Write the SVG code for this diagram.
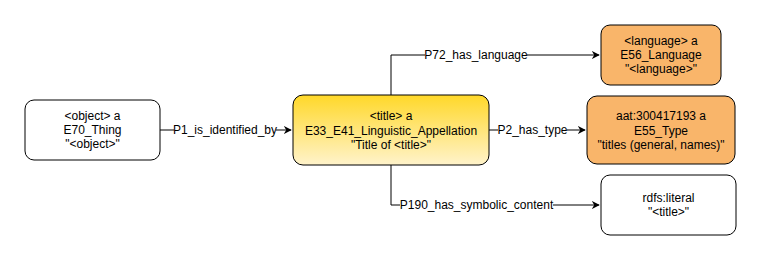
<svg xmlns="http://www.w3.org/2000/svg" width="762" height="261" viewBox="0 0 762 261">
<defs>
<linearGradient id="yel" x1="0" y1="0" x2="0" y2="1">
<stop offset="0" stop-color="#FFD829"/>
<stop offset="1" stop-color="#FFF3CB"/>
</linearGradient>
<marker id="arr" viewBox="0 0 10 10" refX="9" refY="5" markerWidth="8" markerHeight="8" markerUnits="userSpaceOnUse" orient="auto">
<path d="M0,0 L10,5 L0,10 L3,5 Z" fill="#000"/>
</marker>
<style>
.box{stroke:#000;stroke-width:1}
.w{fill:#fff}
.o{fill:#F9B56A}
.y{fill:url(#yel)}
text{font-family:"Liberation Sans",Arial,Helvetica,sans-serif;font-size:12px;fill:#000;text-anchor:middle}
.line{fill:none;stroke:#000;stroke-width:1}
.lbl{fill:#fff}
</style>
</defs>
<rect width="762" height="261" fill="#fff"/>
<g id="connectors">
<path class="line" d="M160,130 L291,130" marker-end="url(#arr)"/>
<rect class="lbl" x="174" y="122" width="102" height="15"/>
<text x="225" y="134">P1_is_identified_by</text>
<path class="line" d="M489,130 L585,130" marker-end="url(#arr)"/>
<rect class="lbl" x="498" y="122" width="69" height="15"/>
<text x="532.5" y="134">P2_has_type</text>
<path class="line" d="M391,95 L391,55 L599,55" marker-end="url(#arr)"/>
<rect class="lbl" x="425" y="47" width="102" height="15"/>
<text x="476" y="59">P72_has_language</text>
<path class="line" d="M391,165 L391,205 L599,205" marker-end="url(#arr)"/>
<rect class="lbl" x="400" y="197" width="153" height="15"/>
<text x="476.5" y="209">P190_has_symbolic_content</text>
</g>
<g id="object">
<rect class="box w" x="25" y="100" width="135" height="60" rx="9"/>
<text x="92.5" y="120">&lt;object&gt; a</text>
<text x="92.5" y="134">E70_Thing</text>
<text x="92.5" y="148">"&lt;object&gt;"</text>
</g>
<g id="title">
<rect class="box y" x="293" y="95" width="196" height="70" rx="10"/>
<text x="391" y="120">&lt;title&gt; a</text>
<text x="391" y="134.5">E33_E41_Linguistic_Appellation</text>
<text x="391" y="149">"Title of &lt;title&gt;"</text>
</g>
<g id="language">
<rect class="box o" x="601" y="25" width="120" height="60" rx="9"/>
<text x="661" y="45">&lt;language&gt; a</text>
<text x="661" y="59">E56_Language</text>
<text x="661" y="73">"&lt;language&gt;"</text>
</g>
<g id="type">
<rect class="box o" x="587" y="96" width="148" height="68" rx="10"/>
<text x="661" y="120">aat:300417193 a</text>
<text x="661" y="134.5">E55_Type</text>
<text x="661" y="149">"titles (general, names)"</text>
</g>
<g id="literal">
<rect class="box w" x="601" y="175" width="135" height="60" rx="9"/>
<text x="668.5" y="202">rdfs:literal</text>
<text x="668.5" y="216">"&lt;title&gt;"</text>
</g>
</svg>
